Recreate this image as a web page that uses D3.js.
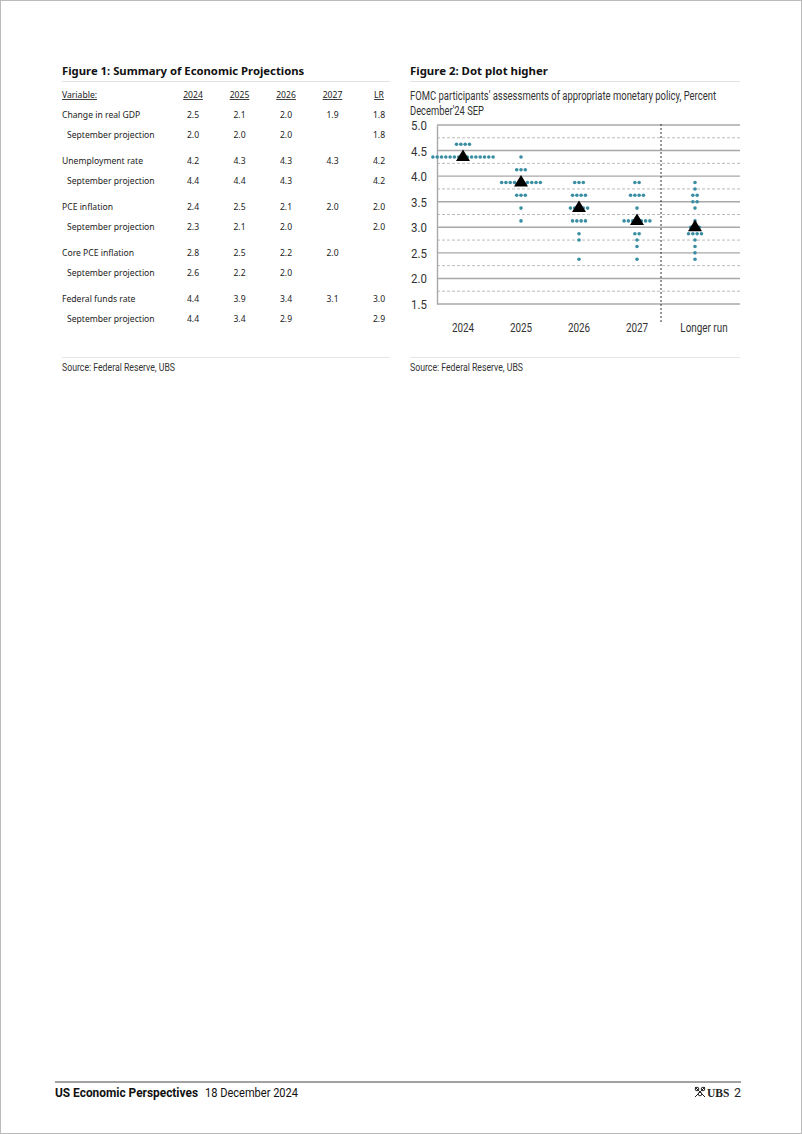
<!DOCTYPE html>
<html>
<head>
<meta charset="utf-8">
<script src="https://cdn.jsdelivr.net/npm/d3@7"></script>
<style>
  html, body { margin: 0; padding: 0; background: #fff; }
  svg { display: block; }
</style>
</head>
<body>
<svg id="page" width="802" height="1134"></svg>
<script>
// ---------- DATA ----------
const tableColumns = ["2024", "2025", "2026", "2027", "LR"];
const rowLabels = ["Change in real GDP", "September projection", "Unemployment rate", "September projection",
  "PCE inflation", "September projection", "Core PCE inflation", "September projection",
  "Federal funds rate", "September projection"];
const gdp = [2.5, 2.1, 2.0, 1.9, 1.8];
const gdpSep = [2.0, 2.0, 2.0, null, 1.8];
const unemp = [4.2, 4.3, 4.3, 4.3, 4.2];
const unempSep = [4.4, 4.4, 4.3, null, 4.2];
const pce = [2.4, 2.5, 2.1, 2.0, 2.0];
const pceSep = [2.3, 2.1, 2.0, null, 2.0];
const corePce = [2.8, 2.5, 2.2, 2.0, null];
const corePceSep = [2.6, 2.2, 2.0, null, null];
const ffr = [4.4, 3.9, 3.4, 3.1, 3.0];
const ffrSep = [4.4, 3.4, 2.9, null, 2.9];
const tableValues = [gdp, gdpSep, unemp, unempSep, pce, pceSep, corePce, corePceSep, ffr, ffrSep];

const dotCategories = ["2024", "2025", "2026", "2027", "Longer run"];
// [rate, number of participants]
const dots2024 = [[4.625, 4], [4.375, 15]];
const dots2025 = [[4.375, 1], [4.125, 3], [3.875, 10], [3.625, 3], [3.375, 1], [3.125, 1]];
const dots2026 = [[3.875, 3], [3.625, 4], [3.375, 5], [3.125, 4], [2.875, 1], [2.75, 1], [2.375, 1]];
const dots2027 = [[3.875, 2], [3.625, 4], [3.375, 1], [3.125, 7], [2.875, 2], [2.75, 1], [2.625, 1], [2.375, 1]];
const dotsLonger = [[3.875, 1], [3.75, 1], [3.625, 2], [3.5, 2], [3.375, 1], [3.125, 1], [3.0, 3], [2.875, 4], [2.75, 1], [2.625, 1], [2.5, 1], [2.375, 1]];
const dotSeries = [dots2024, dots2025, dots2026, dots2027, dotsLonger];
const medians = [4.375, 3.875, 3.375, 3.125, 3.0];
const yTicks = [5.0, 4.5, 4.0, 3.5, 3.0, 2.5, 2.0, 1.5];
const yMinorTicks = [4.75, 4.25, 3.75, 3.25, 2.75, 2.25, 1.75];

// ---------- DRAW ----------
const svg = d3.select("#page");
const sans = "'Noto Sans', 'Open Sans', sans-serif";
const narrow = "Roboto, 'Noto Sans', sans-serif";
const txt = "#222";

// squeeze text horizontally to imitate a condensed face
function condense(sel, factor) {
  sel.each(function () {
    const w = this.getComputedTextLength();
    d3.select(this).attr("textLength", w * factor).attr("lengthAdjust", "spacingAndGlyphs");
  });
}

// page border
svg.append("rect").attr("x", 0.5).attr("y", 0.5).attr("width", 801).attr("height", 1133)
  .attr("fill", "none").attr("stroke", "#bbb");

// ===== Figure 1 =====
const f1 = svg.append("g");
f1.append("text").attr("x", 62).attr("y", 75).text("Figure 1: Summary of Economic Projections")
  .attr("font-family", sans).attr("font-weight", "bold").attr("font-size", 11.3).attr("fill", "#111");
f1.append("line").attr("x1", 62).attr("x2", 390).attr("y1", 81.5).attr("y2", 81.5).attr("stroke", "#e3e3e3");

const colX = d3.scalePoint().domain(tableColumns).range([193, 379]);
const headY = 98;
f1.append("text").attr("x", 62).attr("y", headY).text("Variable:")
  .attr("font-family", sans).attr("font-size", 8.6).attr("fill", txt).attr("text-decoration", "underline");
f1.selectAll("text.colh").data(tableColumns).join("text").attr("class", "colh")
  .attr("x", d => colX(d)).attr("y", headY).attr("text-anchor", "middle").text(d => d)
  .attr("font-family", sans).attr("font-size", 8.6).attr("fill", txt).attr("text-decoration", "underline");

const rowY = [118, 138, 164, 184, 210, 230, 256, 276, 302, 322];
rowLabels.forEach((lab, i) => {
  const sub = i % 2 === 1;
  f1.append("text").attr("x", sub ? 67 : 62).attr("y", rowY[i]).text(lab)
    .attr("font-family", sans).attr("font-size", 8.6).attr("fill", txt);
  f1.selectAll(null).data(tableValues[i].map((v, j) => ({ v, c: tableColumns[j] })).filter(d => d.v !== null))
    .join("text").attr("x", d => colX(d.c)).attr("y", rowY[i]).attr("text-anchor", "middle")
    .text(d => d3.format(".1f")(d.v)).attr("font-family", sans).attr("font-size", 8.6).attr("fill", txt);
});
f1.append("line").attr("x1", 62).attr("x2", 390).attr("y1", 357.5).attr("y2", 357.5).attr("stroke", "#e6e6e6");
f1.append("text").attr("x", 62).attr("y", 371).text("Source: Federal Reserve, UBS")
  .attr("font-family", narrow).attr("font-size", 10).attr("fill", "#333")
  .attr("textLength", 113).attr("lengthAdjust", "spacingAndGlyphs");

// ===== Figure 2 =====
const f2 = svg.append("g");
f2.append("text").attr("x", 410).attr("y", 75).text("Figure 2: Dot plot higher")
  .attr("font-family", sans).attr("font-weight", "bold").attr("font-size", 11.4).attr("fill", "#111");
f2.append("line").attr("x1", 410).attr("x2", 740).attr("y1", 81.5).attr("y2", 81.5).attr("stroke", "#e3e3e3");
f2.append("text").attr("x", 410).attr("y", 100).text("FOMC participants' assessments of appropriate monetary policy, Percent")
  .attr("font-family", narrow).attr("font-size", 12).attr("fill", "#333")
  .attr("textLength", 306).attr("lengthAdjust", "spacingAndGlyphs");
f2.append("text").attr("x", 410).attr("y", 115).text("December'24 SEP")
  .attr("font-family", narrow).attr("font-size", 12).attr("fill", "#333")
  .attr("textLength", 74).attr("lengthAdjust", "spacingAndGlyphs");

const plotL = 437, plotR = 740;
const y = d3.scaleLinear().domain([1.5, 5.0]).range([304, 125]);
const x = d3.scaleBand().domain(dotCategories).range([434, 724]);
const cx = d => x(d) + x.bandwidth() / 2;

// minor dashed grid
f2.selectAll("line.minor").data(yMinorTicks).join("line").attr("class", "minor")
  .attr("x1", plotL).attr("x2", plotR).attr("y1", d => y(d)).attr("y2", d => y(d))
  .attr("stroke", "#aaa").attr("stroke-width", 0.8).attr("stroke-dasharray", "3,2");
// major grid
f2.selectAll("line.major").data(yTicks).join("line").attr("class", "major")
  .attr("x1", plotL).attr("x2", plotR).attr("y1", d => y(d)).attr("y2", d => y(d))
  .attr("stroke", "#a8a8a8").attr("stroke-width", 1.4);
// left axis
const yAxis = d3.axisLeft(y).tickValues(yTicks).tickFormat(d3.format(".1f")).tickSize(0).tickPadding(10);
const ga = f2.append("g").attr("transform", `translate(${plotL},0)`).call(yAxis);
ga.select(".domain").attr("stroke", "#a8a8a8").attr("stroke-width", 1.4);
ga.selectAll("text").attr("font-family", narrow).attr("font-size", 13).attr("fill", "#333").attr("dy", "0.35em");
condense(ga.selectAll("text"), 0.88);

// separator
const sepX = (cx("2027") + cx("Longer run")) / 2 - 5;
f2.append("line").attr("x1", sepX).attr("x2", sepX).attr("y1", 124).attr("y2", 324)
  .attr("stroke", "#333").attr("stroke-width", 1).attr("stroke-dasharray", "2,2");

// x labels
const xAxis = d3.axisBottom(x).tickSize(0).tickPadding(0);
const gx = f2.append("g").attr("transform", `translate(0,${y(1.5)})`).call(xAxis);
gx.select(".domain").remove();
gx.selectAll("text").attr("font-family", narrow).attr("font-size", 13).attr("fill", "#333")
  .attr("dy", 0).attr("y", 28).attr("dx", d => d === "Longer run" ? 9 : 0);
condense(gx.selectAll("text"), 0.76);

// dots
const spacing = 4.3;
dotSeries.forEach((series, k) => {
  const cat = dotCategories[k];
  const pts = [];
  series.forEach(([rate, n]) => {
    for (let i = 0; i < n; i++) pts.push({ x: cx(cat) + (i - (n - 1) / 2) * spacing, y: y(rate) });
  });
  f2.selectAll(null).data(pts).join("circle")
    .attr("cx", d => d.x).attr("cy", d => d.y).attr("r", 1.8).attr("fill", "#3a8ea3");
});
// medians
f2.selectAll("path.median").data(medians.map((m, k) => ({ m, c: dotCategories[k] }))).join("path")
  .attr("class", "median")
  .attr("transform", d => `translate(${cx(d.c)},${y(d.m) - 1})`)
  .attr("d", "M0,-6.5 L7,5 L-7,5 Z").attr("fill", "#000");

f2.append("line").attr("x1", 410).attr("x2", 740).attr("y1", 357.5).attr("y2", 357.5).attr("stroke", "#e6e6e6");
f2.append("text").attr("x", 410).attr("y", 371).text("Source: Federal Reserve, UBS")
  .attr("font-family", narrow).attr("font-size", 10).attr("fill", "#333")
  .attr("textLength", 113).attr("lengthAdjust", "spacingAndGlyphs");

// ===== Footer =====
svg.append("line").attr("x1", 55).attr("x2", 741).attr("y1", 1082).attr("y2", 1082).attr("stroke", "#444").attr("stroke-width", 1);
svg.append("text").attr("x", 55).attr("y", 1097).text("US Economic Perspectives")
  .attr("font-family", narrow).attr("font-weight", "bold").attr("font-size", 12.5).attr("fill", "#111")
  .attr("textLength", 143).attr("lengthAdjust", "spacingAndGlyphs");
svg.append("text").attr("x", 205).attr("y", 1097).text("18 December 2024")
  .attr("font-family", narrow).attr("font-size", 12.5).attr("fill", "#111")
  .attr("textLength", 93).attr("lengthAdjust", "spacingAndGlyphs");
// UBS mark
const logo = svg.append("g").attr("transform", "translate(700,1093)");
[[-3, -3], [3, -3], [0, 2]].forEach(([dx, dy]) => {
  logo.append("circle").attr("cx", dx).attr("cy", dy - 1).attr("r", 1.8).attr("fill", "none").attr("stroke", "#222").attr("stroke-width", 1);
});
logo.append("line").attr("x1", -5).attr("x2", 5).attr("y1", 4).attr("y2", -6).attr("stroke", "#222").attr("stroke-width", 1);
logo.append("line").attr("x1", 5).attr("x2", -5).attr("y1", 4).attr("y2", -6).attr("stroke", "#222").attr("stroke-width", 1);
svg.append("text").attr("x", 707).attr("y", 1097).text("UBS")
  .attr("font-family", "'Liberation Serif', 'DejaVu Serif', serif").attr("font-weight", "bold").attr("font-size", 11.5).attr("fill", "#222");
svg.append("text").attr("x", 734).attr("y", 1097).text("2")
  .attr("font-family", narrow).attr("font-size", 12.5).attr("fill", "#222");
</script>
</body>
</html>
